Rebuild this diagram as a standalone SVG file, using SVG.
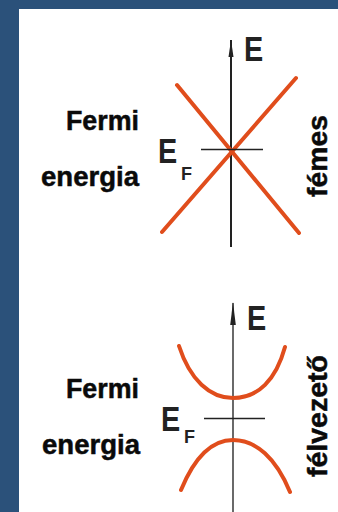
<svg xmlns="http://www.w3.org/2000/svg" width="338" height="512" viewBox="0 0 338 512">
<style>
.lbl{font-family:"Liberation Sans",Arial,sans-serif;font-weight:bold;fill:#0a0a0a;stroke:#0a0a0a;stroke-width:0.5;font-size:28px}
.big{font-family:"Liberation Sans",Arial,sans-serif;font-weight:bold;fill:#222;font-size:36px}
.sub{font-family:"Liberation Sans",Arial,sans-serif;font-weight:bold;fill:#222;font-size:18px}
.band{fill:none;stroke:#e04d1c;stroke-width:4;stroke-linecap:round}
.axis{stroke:#222;stroke-width:2}
.axis2{stroke:#444;stroke-width:1.6}
.fl{stroke:#222;stroke-width:1.6}
</style>
<rect x="0" y="0" width="338" height="512" fill="#2b517a"/>
<rect x="19" y="9" width="319" height="503" fill="#ffffff"/>

<g id="metal">
  <g id="metal-axis">
    <line class="axis" x1="231" y1="40" x2="231" y2="247"/>
    <polygon points="231,40 228.5,57 233.5,57" fill="#222"/>
    <text class="big" transform="translate(244,61) scale(0.8,1)">E</text>
  </g>
  <g id="metal-bands">
    <line class="band" x1="177" y1="85" x2="299" y2="233"/>
    <line class="band" x1="296" y1="78" x2="162" y2="232"/>
  </g>
  <g id="metal-fermi">
    <line class="fl" x1="201" y1="149.5" x2="263" y2="149.5"/>
    <text class="big" transform="translate(158,163) scale(0.8,1)">E</text>
    <text class="sub" x="181" y="180">F</text>
  </g>
  <g id="metal-label">
    <text class="lbl" x="139" y="130" text-anchor="end" textLength="73" lengthAdjust="spacingAndGlyphs">Fermi</text>
    <text class="lbl" x="41" y="186" textLength="98" lengthAdjust="spacingAndGlyphs">energia</text>
  </g>
  <g id="metal-title">
    <text class="lbl" transform="translate(327,197) rotate(-90)" textLength="82" lengthAdjust="spacingAndGlyphs">fémes</text>
  </g>
</g>

<g id="semiconductor">
  <g id="semi-axis">
    <line class="axis2" x1="233" y1="303" x2="233" y2="512"/>
    <polygon points="233,302 230.2,325 235.8,325" fill="#222"/>
    <text class="big" transform="translate(247,330) scale(0.8,1)">E</text>
  </g>
  <g id="semi-bands">
    <path class="band" d="M179,346 C190,380 210,398 233,398 C258,398 276,380 285,347"/>
    <path class="band" d="M181,490 C195,456 212,440 233,440 C256,440 276,458 290,492"/>
  </g>
  <g id="semi-fermi">
    <line class="fl" x1="204" y1="418.5" x2="265" y2="418.5"/>
    <text class="big" transform="translate(161,431) scale(0.8,1)">E</text>
    <text class="sub" x="184" y="443">F</text>
  </g>
  <g id="semi-label">
    <text class="lbl" x="139" y="398" text-anchor="end" textLength="73" lengthAdjust="spacingAndGlyphs">Fermi</text>
    <text class="lbl" x="42" y="454" textLength="98" lengthAdjust="spacingAndGlyphs">energia</text>
  </g>
  <g id="semi-title">
    <text class="lbl" transform="translate(327,477) rotate(-90)" textLength="122" lengthAdjust="spacingAndGlyphs">félvezető</text>
  </g>
</g>
</svg>
